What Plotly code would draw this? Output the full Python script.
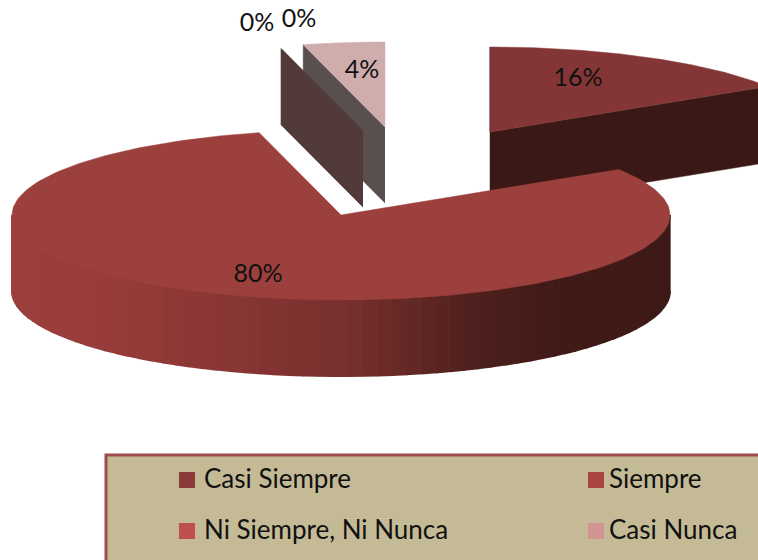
import numpy as np
import plotly.graph_objects as go

# ---- data ----
slice_values = [16, 80, 0, 0, 4]          # percent, clockwise from 12 o'clock
legend_names = ["Casi Siempre", "Siempre", "Ni Siempre, Ni Nunca", "Casi Nunca"]

# ---- styling / projection constants ----
RX, RY, DEPTH = 329, 85, 76
centers = [(490, 132), (341, 215), (363, 131), (363, 131), (385, 127)]
pulled_labels = [(578, 80), (258, 276), (257, 25), (299, 21), (362, 72)]
top_colors = ["#843636", "#9c403e", "#533a3a", "#533a3a", "#d0adad"]
wall_colors = ["#3a1815", "#3f1a18", "#533a3a", "#533a3a", "#5a4f4f"]
draw_order = [0, 4, 3, 2, 1]
rim_stops_x = [13, 100, 200, 340, 400, 470, 550, 670]
rim_stops_rgb = [(156, 64, 62), (152, 61, 59), (140, 56, 54), (122, 49, 47),
                 (104, 42, 39), (80, 33, 30), (66, 27, 24), (62, 26, 23)]
legend_x = [187, 596]
legend_text_x = [204, 609]
legend_y = [480, 531]
legend_colors = ["#8c3a38", "#a94442", "#c0504d", "#d39393"]
FONT = "Lato"

fig = go.Figure()


def project(center, theta):
    """theta in degrees clockwise from top -> pixel coords of the top rim."""
    t = np.radians(theta)
    return center[0] + RX * np.sin(t), center[1] - RY * np.cos(t)


def poly(xs, ys, color, width=0.5):
    fig.add_trace(go.Scatter(x=list(xs), y=list(ys), mode="lines", fill="toself",
                             fillcolor=color, line=dict(color=color, width=width),
                             hoverinfo="skip", showlegend=False))


def rim_color(x):
    c = [np.interp(x, rim_stops_x, [s[i] for s in rim_stops_rgb]) for i in range(3)]
    return "rgb(%d,%d,%d)" % tuple(c)


edges = np.cumsum([0] + slice_values) * 3.6

for i in draw_order:
    c = centers[i]
    a0, a1 = edges[i], edges[i + 1]
    # inner cut wall(s), extruded down from the apex
    wall_angles = [a0, a1] if i == 0 else [a0]
    for a in wall_angles:
        if i == 1:
            continue
        ex, ey = project(c, a)
        poly([c[0], ex, ex, c[0]], [c[1], ey, ey + DEPTH, c[1] + DEPTH], wall_colors[i])
    # front rim strips
    lo, hi = max(a0, 90), min(a1, 270)
    if hi > lo:
        angs = np.linspace(lo, hi, 70)
        for u, v in zip(angs[:-1], angs[1:]):
            ux, uy = project(c, u)
            vx, vy = project(c, v)
            poly([ux, vx, vx, ux], [uy, vy, vy + DEPTH, uy + DEPTH],
                 rim_color((ux + vx) / 2), width=2)
    # top face
    if a1 > a0:
        angs = np.linspace(a0, a1, 200)
        px, py = project(c, angs)
        poly(np.r_[c[0], px, c[0]], np.r_[c[1], py, c[1]], top_colors[i])

# data labels
fig.add_trace(go.Scatter(
    x=[p[0] for p in pulled_labels], y=[p[1] for p in pulled_labels],
    text=[f"{v}%" for v in slice_values], mode="text", textposition="middle center",
    textfont=dict(family=FONT, size=25, color="#111111"),
    hoverinfo="skip", showlegend=False, cliponaxis=False))

# legend entries
lx = [legend_x[0], legend_x[1], legend_x[0], legend_x[1]]
ly = [legend_y[0], legend_y[0], legend_y[1], legend_y[1]]
tx = [legend_text_x[0], legend_text_x[1], legend_text_x[0], legend_text_x[1]]
fig.add_trace(go.Scatter(x=lx, y=ly, mode="markers",
                         marker=dict(symbol="square", size=16, color=legend_colors, line=dict(width=0)),
                         hoverinfo="skip", showlegend=False))
fig.add_trace(go.Scatter(x=tx, y=[v + 1 for v in ly], mode="text",
                         text=legend_names, textposition="middle right",
                         textfont=dict(family=FONT, size=26, color="#111111"),
                         hoverinfo="skip", showlegend=False))

fig.update_layout(
    width=758, height=560, margin=dict(l=0, r=0, t=0, b=0),
    paper_bgcolor="white", plot_bgcolor="white", showlegend=False,
    xaxis=dict(range=[0, 758], visible=False, fixedrange=True),
    yaxis=dict(range=[560, 0], visible=False, fixedrange=True),
    shapes=[dict(type="rect", xref="x", yref="y", x0=106, y0=455, x1=790, y1=590,
                 fillcolor="#c4bb96", line=dict(color="#a04a4a", width=3), layer="below")],
)
fig.write_html("out.html", config={"displayModeBar": False},
               post_script="document.body.style.margin='0';document.body.style.overflow='hidden';")
